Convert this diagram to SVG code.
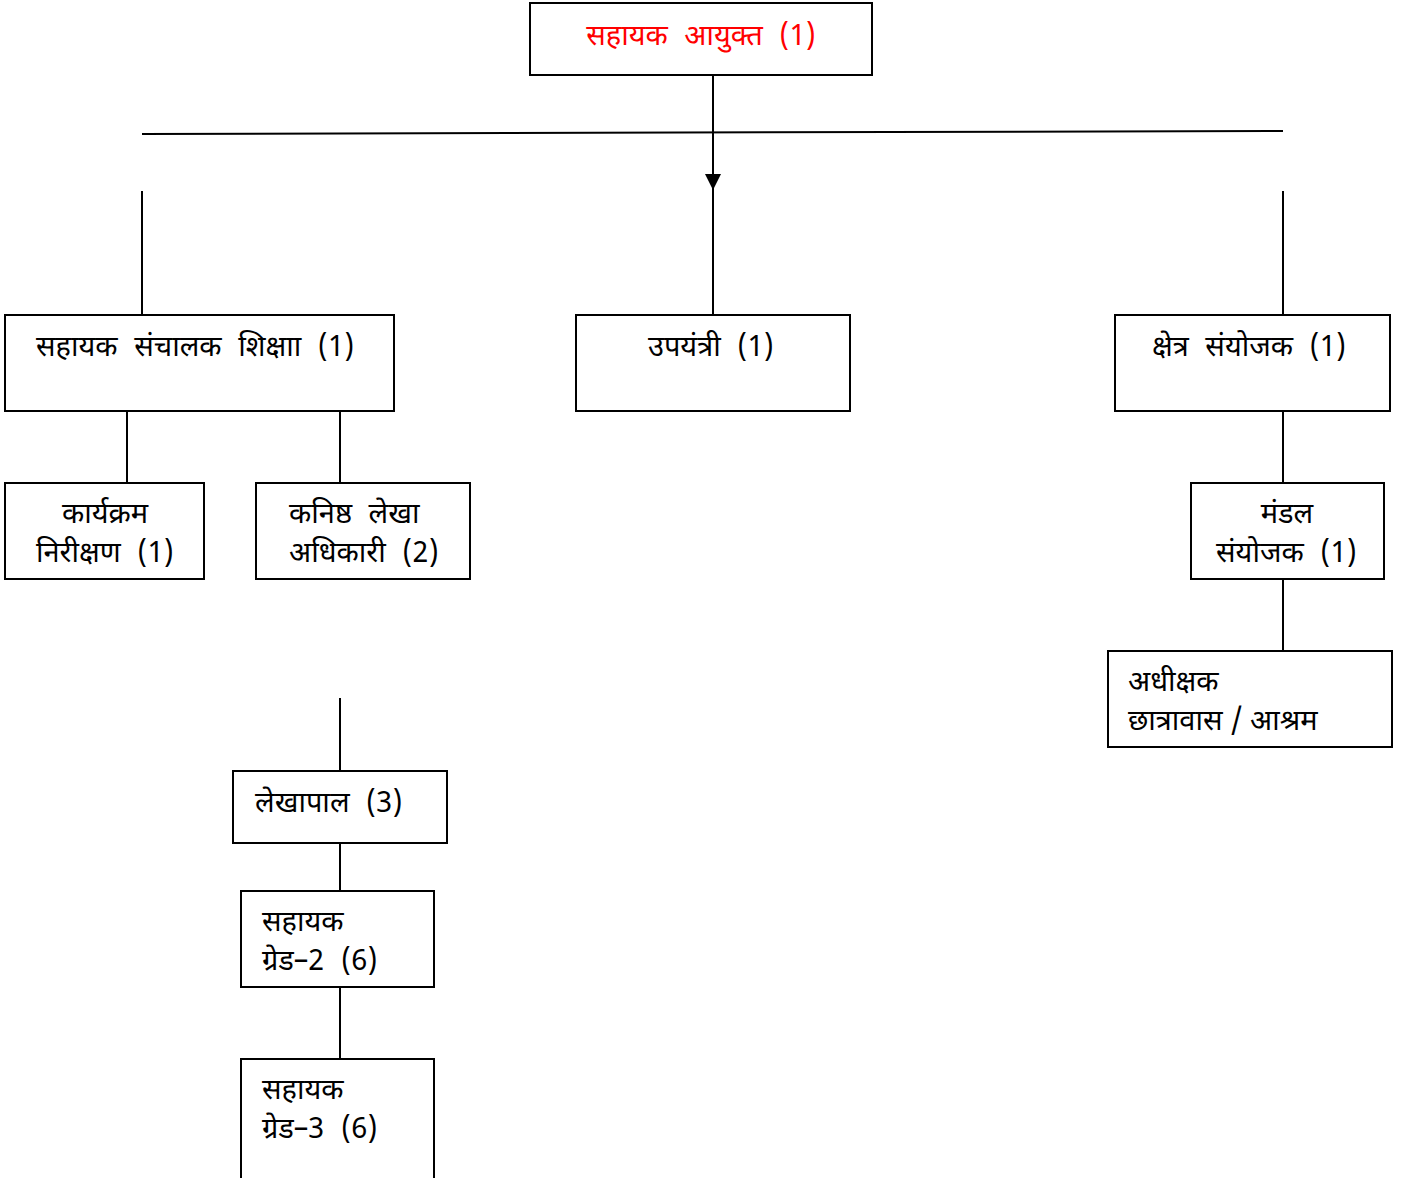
<svg xmlns="http://www.w3.org/2000/svg" width="1409" height="1178" viewBox="0 0 1409 1178">
<style>
.box{fill:#fff;stroke:#000;stroke-width:2}
.ln{stroke:#000;stroke-width:2;fill:none}
text{font-family:"Noto Sans Devanagari","Lohit Devanagari","Noto Sans","DejaVu Sans",sans-serif;font-size:29px;fill:#000;word-spacing:9px}
.red{fill:#ff0000}
.tight{word-spacing:0}
</style>
<defs>
<marker id="arrow" viewBox="0 0 16 16" refX="16" refY="8" markerWidth="16" markerHeight="16" markerUnits="userSpaceOnUse" orient="auto">
<path d="M0,0 L16,8 L0,16 z" fill="#000"/>
</marker>
</defs>
<g id="connectors">
<line class="ln" x1="142" y1="134" x2="1283" y2="131"/>
<line class="ln" x1="713" y1="75" x2="713" y2="190" marker-end="url(#arrow)"/>
<line class="ln" x1="713" y1="190" x2="713" y2="315"/>
<line class="ln" x1="142" y1="191" x2="142" y2="315"/>
<line class="ln" x1="1283" y1="191" x2="1283" y2="315"/>
<line class="ln" x1="127" y1="411" x2="127" y2="483"/>
<line class="ln" x1="340" y1="411" x2="340" y2="483"/>
<line class="ln" x1="1283" y1="411" x2="1283" y2="483"/>
<line class="ln" x1="1283" y1="579" x2="1283" y2="651"/>
<line class="ln" x1="340" y1="698" x2="340" y2="771"/>
<line class="ln" x1="340" y1="843" x2="340" y2="891"/>
<line class="ln" x1="340" y1="987" x2="340" y2="1059"/>
</g>
<g id="n-top">
<rect class="box" x="530" y="3" width="342" height="72"/>
<text class="red" x="701" y="45" text-anchor="middle">सहायक आयुक्त (1)</text>
</g>
<g id="n-sanchalak">
<rect class="box" x="5" y="315" width="389" height="96"/>
<text x="36" y="356">सहायक संचालक शिक्षाा (1)</text>
</g>
<g id="n-upyantri">
<rect class="box" x="576" y="315" width="274" height="96"/>
<text x="648" y="356">उपयंत्री (1)</text>
</g>
<g id="n-kshetra">
<rect class="box" x="1115" y="315" width="275" height="96"/>
<text x="1152" y="356">क्षेत्र संयोजक (1)</text>
</g>
<g id="n-karyakram">
<rect class="box" x="5" y="483" width="199" height="96"/>
<text x="105" y="523" text-anchor="middle">कार्यक्रम</text>
<text x="36" y="562">निरीक्षण (1)</text>
</g>
<g id="n-kanishth">
<rect class="box" x="256" y="483" width="214" height="96"/>
<text x="289" y="523">कनिष्ठ लेखा</text>
<text x="289" y="562">अधिकारी (2)</text>
</g>
<g id="n-mandal">
<rect class="box" x="1191" y="483" width="193" height="96"/>
<text x="1287" y="523" text-anchor="middle">मंडल</text>
<text x="1216" y="562">संयोजक (1)</text>
</g>
<g id="n-adhikshak">
<rect class="box" x="1108" y="651" width="284" height="96"/>
<text x="1128" y="691">अधीक्षक</text>
<text class="tight" x="1128" y="730">छात्रावास / आश्रम</text>
</g>
<g id="n-lekhapal">
<rect class="box" x="233" y="771" width="214" height="72"/>
<text x="255" y="812">लेखापाल (3)</text>
</g>
<g id="n-grade2">
<rect class="box" x="241" y="891" width="193" height="96"/>
<text x="262" y="931">सहायक</text>
<text x="262" y="970">ग्रेड–2 (6)</text>
</g>
<g id="n-grade3">
<rect class="box" x="241" y="1059" width="193" height="130"/>
<text x="262" y="1099">सहायक</text>
<text x="262" y="1138">ग्रेड–3 (6)</text>
</g>
</svg>
